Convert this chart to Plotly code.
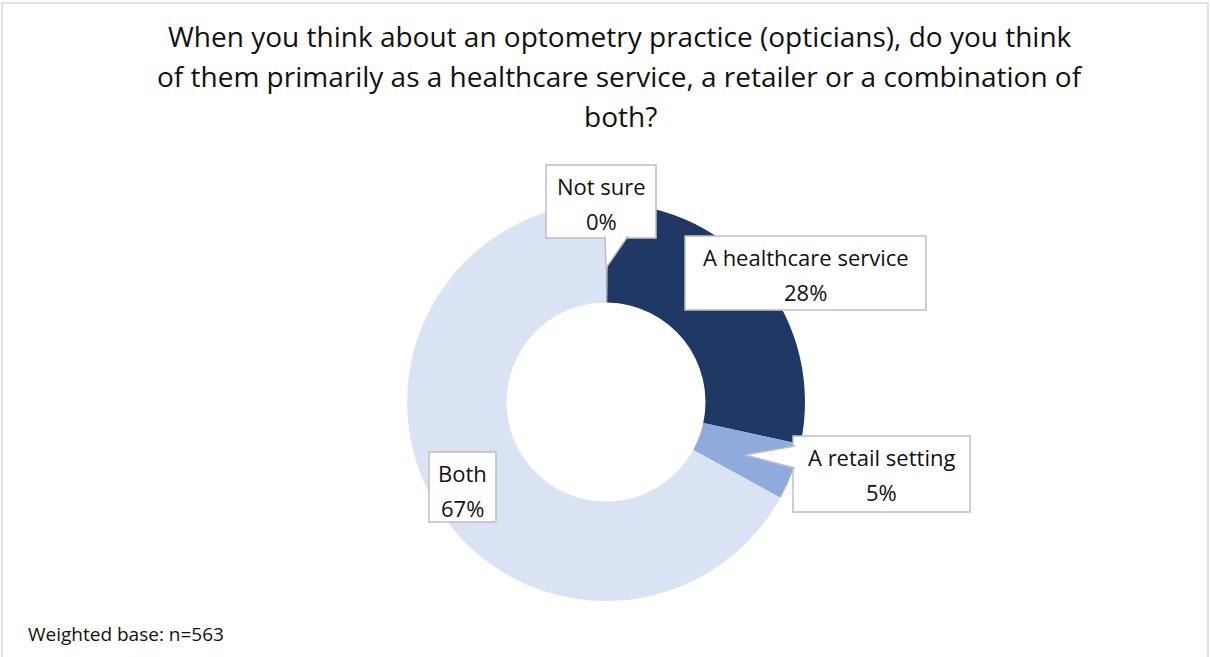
import plotly.graph_objects as go

W, H = 1210, 657

categories = ["Not sure", "A healthcare service", "A retail setting", "Both"]
values = [0.2, 28.2, 4.6, 67.0]
colors = ["#A5A5A5", "#203864", "#8FAADC", "#DAE3F3"]

title_lines = [
    "When you think about an optometry practice (opticians), do you think",
    "of them primarily as a healthcare service, a retailer or a combination of",
    "both?",
]
footnote = "Weighted base: n=563"

FONT = "Open Sans"


def px(x):
    return x / W


def py(y):
    return 1 - y / H


fig = go.Figure()

fig.add_trace(go.Pie(
    labels=categories,
    values=values,
    sort=False,
    direction="clockwise",
    rotation=0,
    hole=0.5,
    marker=dict(colors=colors, line=dict(width=0)),
    textinfo="none",
    hoverinfo="label+percent",
    showlegend=False,
    domain=dict(x=[px(407), px(805)], y=[py(601), py(203)]),
))

shapes = []
annotations = []

# outer border
shapes.append(dict(type="rect", xref="paper", yref="paper",
                   x0=px(2), x1=px(1208), y0=py(660), y1=py(3),
                   line=dict(color="#D9D9D9", width=1.5), fillcolor="rgba(0,0,0,0)",
                   layer="below"))

# title
for i, line in enumerate(title_lines):
    annotations.append(dict(text=line, xref="paper", yref="paper",
                            x=px(620), y=py(36 + 40 * i), xanchor="center", yanchor="middle",
                            showarrow=False, font=dict(family=FONT, size=28, color="#111111")))

# label boxes (x0, y0, x1, y1) in px
total = sum(values)
pcts = [f"{round(v / total * 100)}%" for v in values]
boxes = [
    (546, 165, 656, 238),
    (685, 236, 926, 310),
    (793, 436, 970, 512),
    (429, 452, 496, 522),
]
for (x0, y0, x1, y1) in boxes:
    shapes.append(dict(type="rect", xref="paper", yref="paper",
                       x0=px(x0), x1=px(x1), y0=py(y1), y1=py(y0),
                       line=dict(color="#BFBFBF", width=1.5), fillcolor="white"))

# callout pointers
pointers = [
    [(605, 236), (606, 268), (628, 236)],
    [(795, 446), (745, 455), (795, 468)],
]
for pts in pointers:
    path = "M {} {} L {} {} L {} {}".format(
        px(pts[0][0]), py(pts[0][1]), px(pts[1][0]), py(pts[1][1]), px(pts[2][0]), py(pts[2][1]))
    shapes.append(dict(type="path", xref="paper", yref="paper", path=path,
                       fillcolor="white", line=dict(color="#BFBFBF", width=1.5)))

for (x0, y0, x1, y1), cat, pct in zip(boxes, categories, pcts):
    cx = (x0 + x1) / 2
    annotations.append(dict(text=cat, xref="paper", yref="paper", x=px(cx), y=py(y0 + 21),
                            xanchor="center", yanchor="middle", showarrow=False,
                            font=dict(family=FONT, size=22, color="#111111")))
    annotations.append(dict(text=pct, xref="paper", yref="paper", x=px(cx), y=py(y0 + 56),
                            xanchor="center", yanchor="middle", showarrow=False,
                            font=dict(family=FONT, size=22, color="#111111")))

annotations.append(dict(text=footnote, xref="paper", yref="paper", x=px(26), y=py(634),
                        xanchor="left", yanchor="middle", showarrow=False,
                        font=dict(family=FONT, size=19, color="#111111")))

fig.update_layout(
    width=W, height=H,
    margin=dict(l=0, r=0, t=0, b=0),
    paper_bgcolor="white",
    plot_bgcolor="white",
    shapes=shapes,
    annotations=annotations,
)

fig.write_html("out.html")
